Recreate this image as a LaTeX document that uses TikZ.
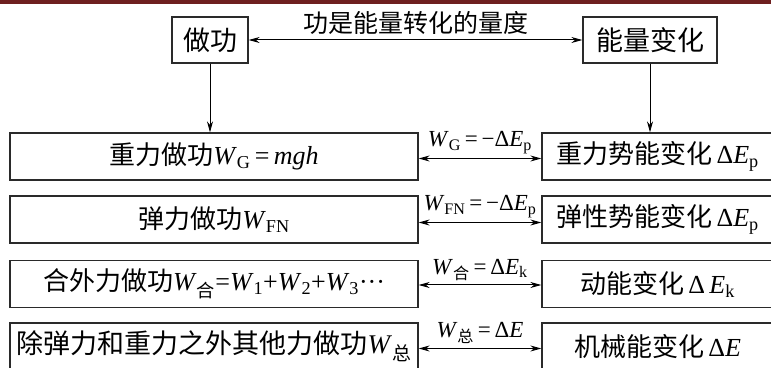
\documentclass[tikz,border=0pt]{standalone}
\usepackage{fontspec}
\setmainfont{Liberation Serif}
\newfontfamily\cjk{Noto Sans CJK SC}
\usetikzlibrary{arrows.meta}
\definecolor{topbar}{HTML}{6E1F1F}
\definecolor{ink}{HTML}{2A2A2A}

\newcommand{\Wi}{\textit{W}}
\newcommand{\dE}{Δ\textit{E}}

\begin{document}
\begin{tikzpicture}[x=1pt,y=1pt,
  every path/.style={>={Stealth[length=11pt,width=6pt]}},
  box/.style={draw=ink,line width=1.3pt,rectangle,inner sep=0pt,minimum height=47pt,
    font=\fontsize{26}{30}\selectfont},
  tag/.style={font=\fontsize{23}{26}\selectfont,inner sep=1pt,above=3pt}]
\clip (0,0) rectangle (771,367);
\fill[topbar] (0,363) rectangle (771,367);
\node[box,minimum width=76pt,minimum height=46pt,font=\fontsize{27}{30}\selectfont]  (zg) at (210,327) {\cjk 做功};
\node[box,minimum width=134pt,minimum height=46pt,font=\fontsize{27}{30}\selectfont] (nl) at (650,327) {\cjk 能量变化};
\node[box,minimum width=408pt] (l1) at (214,210.5) {{\cjk 重力做功}\Wi\textsubscript{G}\,=\,\textit{mgh}};
\node[box,minimum width=408pt] (l2) at (214,147.5) {{\cjk 弹力做功}\Wi\textsubscript{FN}};
\node[box,minimum width=408pt] (l3) at (214,83)    {{\cjk 合外力做功}\Wi\textsubscript{\cjk 合}=\Wi\textsubscript{1}+\Wi\textsubscript{2}+\Wi\textsubscript{3}···};
\node[box,minimum width=408pt,font=\fontsize{27}{30}\selectfont] (l4) at (214,20.5)  {{\cjk 除弹力和重力之外其他力做功}\Wi\textsubscript{\cjk 总}};
\node[box,minimum width=231pt] (r1) at (657.5,210.5) {{\cjk 重力势能变化}\,\dE\textsubscript{p}};
\node[box,minimum width=231pt] (r2) at (657.5,147.5) {{\cjk 弹性势能变化}\,\dE\textsubscript{p}};
\node[box,minimum width=231pt] (r3) at (657.5,83)    {{\cjk 动能变化}\,Δ\,\textit{E}\textsubscript{k}};
\node[box,minimum width=231pt] (r4) at (657.5,20.5)  {{\cjk 机械能变化}\,\dE};
\draw[<->,line width=1pt] (zg) -- node[above=4pt,font=\fontsize{25}{27}\selectfont,inner sep=1pt] {\cjk 功是能量转化的量度} (nl);
\draw[->,line width=1pt]  (zg.south) -- (zg.south |- l1.north);
\draw[->,line width=1pt]  (nl.south) -- (nl.south |- r1.north);
\draw[<->,line width=1pt] ([yshift=-2pt]l1.east) -- node[tag] {\Wi\textsubscript{G}\,=\,−\dE\textsubscript{p}} ([yshift=-2pt]r1.west);
\draw[<->,line width=1pt] ([yshift=-3pt]l2.east) -- node[tag] {\Wi\textsubscript{FN}\,=\,−\dE\textsubscript{p}} ([yshift=-3pt]r2.west);
\draw[<->,line width=1pt] ([yshift=-1pt]l3.east) -- node[tag] {\Wi\textsubscript{\cjk 合}\,=\,\dE\textsubscript{k}} ([yshift=-1pt]r3.west);
\draw[<->,line width=1pt] ([yshift=-2pt]l4.east) -- node[tag] {\Wi\textsubscript{\cjk 总}\,=\,\dE} ([yshift=-2pt]r4.west);
\end{tikzpicture}
\end{document}
